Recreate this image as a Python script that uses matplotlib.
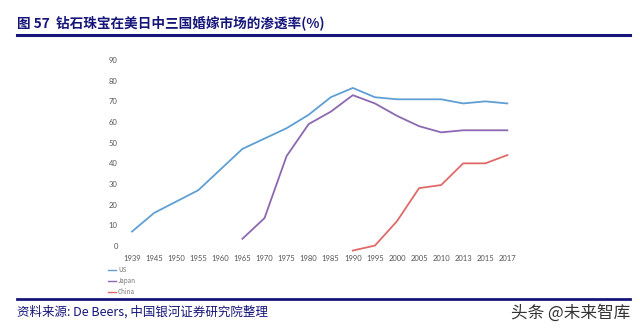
import matplotlib
matplotlib.use("Agg")
import matplotlib.pyplot as plt
from matplotlib.lines import Line2D

plt.rcParams['font.family'] = ['Noto Sans CJK SC', 'DejaVu Sans']

# data
years = ["1939", "1945", "1950", "1955", "1960", "1965", "1970", "1975", "1980", "1985",
         "1990", "1995", "2000", "2005", "2010", "2013", "2015", "2017"]
us = [7, 16, 21.5, 27, 37, 47, 52, 57, 63.5, 72, 76.5, 72, 71, 71, 71, 69, 70, 69]
japan = [None, None, None, None, None, 3.5, 13.5, 43.5, 59, 65, 73, 69, 63, 58, 55, 56, 56, 56]
china = [None, None, None, None, None, None, None, None, None, None,
         -2.2, 0.2, 12, 28, 29.5, 40, 40, 44]
yticks = [0, 10, 20, 30, 40, 50, 60, 70, 80, 90]

c_us = "#5f9fd3"
c_jp = "#8b68b0"
c_cn = "#e06a6a"
navy = "#16167a"

fig = plt.figure(figsize=(6.4, 3.36), dpi=100)
ax = fig.add_axes([0.1925, 0.2494, 0.652, 0.5842])

x = list(range(len(years)))
def pts(vals):
    xs = [i for i, v in zip(x, vals) if v is not None]
    ys = [v for v in vals if v is not None]
    return xs, ys

ax.plot(*pts(us), color=c_us, lw=1.3, label="US")
ax.plot(*pts(japan), color=c_jp, lw=1.3, label="Japan")
ax.plot(*pts(china), color=c_cn, lw=1.3, label="China")

ax.set_xlim(-0.4, 18.5)
ax.set_ylim(-3, 92)
ax.set_xticks(x)
ax.set_xticklabels(years)
ax.set_yticks(yticks)
for s in ax.spines.values():
    s.set_visible(False)
ax.tick_params(length=0, labelsize=5.5, labelcolor="#555555", pad=2)
ax.tick_params(axis="y", pad=4)
for lab in ax.get_xticklabels() + ax.get_yticklabels():
    lab.set_family(["Lato", "DejaVu Sans"])

handles = [Line2D([], [], color=c_us, lw=1), Line2D([], [], color=c_jp, lw=1),
           Line2D([], [], color=c_cn, lw=1)]
fig.legend(handles, ["US", "Japan", "China"], loc="upper left",
           bbox_to_anchor=(0.165, 0.215), frameon=False, fontsize=4.5,
           handlelength=1.2, handletextpad=0.4, labelspacing=0.45,
           labelcolor="#777777", borderaxespad=0)

# title and rules
fig.text(0.027, 0.932, "图 57  钻石珠宝在美日中三国婚嫁市场的渗透率(%)", fontsize=9.8,
         fontweight="bold", color=navy, va="center", ha="left")
fig.add_artist(Line2D([0.027, 0.985], [0.896, 0.896], color=navy, lw=2.2))
fig.add_artist(Line2D([0.027, 0.985], [0.110, 0.110], color=navy, lw=2.0))
fig.text(0.027, 0.071, "资料来源: De Beers, 中国银河证券研究院整理", fontsize=9,
         color=navy, va="center", ha="left", style="italic")
fig.text(0.985, 0.068, "头条 @未来智库", fontsize=12, color="#333333",
         va="center", ha="right")

fig.savefig("out.png", dpi=100)
